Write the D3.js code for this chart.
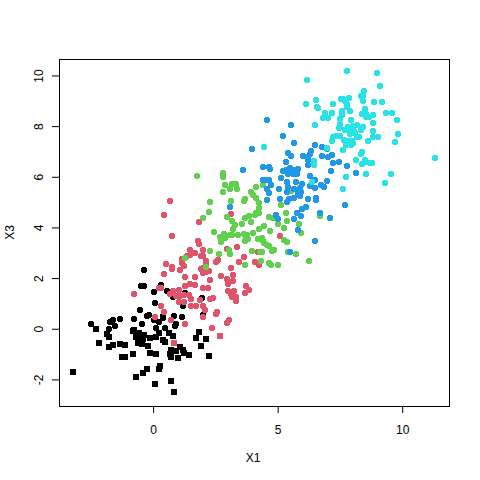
<!DOCTYPE html>
<html><head><meta charset="utf-8">
<style>html,body{margin:0;padding:0;background:#fff}svg{display:block}text{font-family:"Liberation Sans",Arial,sans-serif;font-size:12px;fill:#000}</style>
<script src="https://cdn.jsdelivr.net/npm/d3@7"></script></head><body>
<svg id="c" width="480" height="480"></svg>
<script>
const xTicks=[0,5,10];
const yTicks=[-2,0,2,4,6,8,10];
const xLabel="X1", yLabel="X3";
const groupColors=["#000000","#DF536B","#61D04F","#2297E6","#28E2E5"];
const black=[[-.36,2.33],[-.47,1.7],[-.36,1.7],[.32,1.74],[.04,1.46],[.56,1.5],[1.29,1.42],[.8,1.26],[1.97,1.22],[1.24,1.07],[1.2,.91],[.08,1.03],[-.52,.75],[-2.49,.2],[-1.73,.28],[-1.61,.36],[-1.33,.39],[-.76,.39],[-1.77,0],[-1.53,.12],[-.44,.2],[-.24,.51],[-.16,.55],[.04,.36],[.24,.28],[.4,.43],[.4,.51],[.84,.51],[1.16,.47],[.92,.2],[.88,.12],[.12,.04],[.48,.04],[2.01,.55],
[-2.29,-.02],[-1.87,-.2],[-1.77,-.32],[-2.17,-.55],[-1.77,-.71],[-1.61,-.63],[-1.33,-.59],[-1.12,-.63],[-1.24,-1.11],[-1.12,-1.11],[-.8,-.99],[-3.23,-1.72],[-.8,-.08],[-.76,-.04],[-.64,-.2],[-.56,-.16],[-.7,-.32],[-.36,-.24],[-.53,-.36],[-.44,-.39],[-.6,-.55],[-.44,-.59],[-.2,-.67],[-.12,-.36],[.12,-.32],[.24,-.16],[.4,-.43],[.48,-.51],[.64,-.16],[.8,-.28],[-.13,-.95],[.12,-.99],[1.85,-.12],[1.71,-.38],[2.12,-.39],[1.91,-.68],[2.25,-1.08],[.72,-.84],[1.07,-.71],[.92,-.88],[1.2,-.84],[1.24,-.96],[1.45,-1.04],[.67,-.99],[.71,-1.12],[1,-1.16],[-.25,-1.59],[-.4,-1.76],[-.7,-1.89],[.27,-1.47],[.23,-1.58],[.08,-2.2],[.72,-2.08],[.84,-2.51],[-.8,-.09],[-.67,-.29],[-.53,-.29],[-.53,-.49],[-.4,-.42]];
const red=[[.68,5.05],[.44,4.5],[1.85,4.22],[.76,3.67],[1.81,3.47],[1.85,3.36],[2.01,3.12],[1.49,3.12],[1.69,3],[1.49,2.92],[1.37,2.88],[1.16,2.76],[1.16,2.61],[1.24,2.49],[.52,2.57],[.76,2.45],[.76,2.37],[1.08,2.33],[.44,2.17],[1.93,2.88],[2.01,2.88],[2.13,2.68],[2.13,2.57],[2.61,2.72],[2.53,2.64],[2.97,3.16],[3.37,3.24],[3.65,2.84],[3.45,2.64],[4.1,2.64],[4.27,2.53],[3.13,2.41],[2.01,2.41],[1.93,2.37],[2.01,2.21],[2.13,2.25],[2.25,2.29],[3.21,2.13],[2.73,2.09],[2.97,1.97],[3.21,1.89],[2.29,1.93],[1.29,2.05],[1.69,2.05],[1.29,1.7],[1.49,1.78],[1.69,1.74],[2.01,1.62],[2.21,1.62],[3.01,1.78],[3.73,1.7],[3.86,1.54],[3.69,1.42],[3.01,1.5],[3.25,1.5],[3.13,1.38],[3.17,1.26],[3.33,1.26],[3.33,1.11],[2.41,1.22],[2.29,1.18],[1.89,1.14],[1.04,1.54],[.8,1.5],[.24,1.62],[.32,1.62],[.68,1.38],[.92,1.3],[1.08,1.3],[1.24,1.34],[1.45,1.34],[1.53,1.18],[1.04,1.07],[1.24,1.07],[.32,.91],[1.53,.91],[1.73,.91],[2.01,.91],[2.09,.75],[.44,.67],[.08,.47],[.72,.36],[1.29,.2],[2.01,.47],[2.57,.67],[2.53,.59],[3.05,.36],[2.97,.24],[2.37,.04],[-.76,1.38],[.84,-.58],[2.7,-.28],[3.13,4.54],[5.1,3.67],[4.22,3.04]];
const green=[[1.77,6.04],[2.81,6.16],[2.81,6],[2.89,5.68],[3.17,5.72],[3.33,5.72],[3.09,5.53],[3.37,5.53],[2.81,5.41],[4.42,5.68],[4.14,5.61],[3.94,5.41],[4.02,5.29],[4.14,5.17],[3.69,5.13],[3.65,5.05],[3.13,5.05],[2.29,5.01],[2.25,4.62],[2.01,4.38],[4.26,4.97],[4.26,4.78],[4.26,4.58],[4.14,4.58],[4.1,4.5],[3.86,4.46],[3.69,4.38],[2.97,4.42],[3.17,4.26],[3.29,4.11],[3.57,4.14],[3.94,4.22],[4.66,4.42],[4.82,4.38],[5.34,4.58],[5.14,4.89],[5.38,4.26],[5.02,4.14],[4.46,4.07],[4.26,3.95],[4.7,3.87],[5.26,3.99],[5.86,4.14],[5.94,3.79],[3.21,3.95],[2.45,3.83],[2.85,3.75],[2.69,3.63],[2.89,3.59],[2.73,3.43],[3.09,3.71],[3.17,3.71],[3.41,3.71],[3.65,3.75],[4.02,3.79],[3.78,3.71],[3.74,3.59],[3.82,3.55],[3.69,3.47],[4.22,3.55],[4.38,3.59],[4.42,3.47],[4.46,3.39],[4.58,3.32],[4.66,3.28],[5.26,3.51],[5.38,3.43],[3.05,3.12],[3.09,2.96],[2.29,3.08],[2.65,2.96],[3.98,3.08],[4.3,3.04],[4.38,3.04],[4.78,3.08],[4.86,3.12],[5.42,3.04],[5.74,2.96],[6.27,2.68],[4.34,2.68],[4.66,2.61],[4.74,2.53],[5.02,2.53],[3.69,2.53],[2.13,2.45],[5.54,5.45],[6.71,4.46],[1.29,2.8]];
const blue=[[5.22,7.62],[5.66,7.34],[6.51,7.26],[6.79,7.18],[6.99,7.11],[3.98,7.11],[5.42,6.95],[5.54,6.83],[6.02,6.83],[6.35,7.03],[6.31,6.91],[6.22,6.79],[6.79,6.83],[7.03,6.79],[7.19,6.87],[6.22,6.67],[6.22,6.47],[5.34,6.59],[7.23,6.55],[7.47,6.59],[4.42,6.39],[4.66,6.39],[4.7,6.32],[3.61,6.28],[7.15,6.24],[5.22,6.24],[5.34,6.28],[5.5,6.36],[5.62,6.28],[5.82,6.32],[5.42,6.12],[5.62,6.12],[5.78,6.12],[5.14,5.96],[6.31,6.04],[6.51,5.88],[4.42,5.88],[4.54,5.88],[4.66,5.88],[5.38,5.8],[5.74,5.8],[6.99,5.84],[6.75,5.68],[6.87,5.61],[6.31,5.64],[6.51,5.57],[5.98,5.72],[4.74,5.68],[4.58,5.53],[4.66,5.37],[5.06,5.53],[5.42,5.61],[5.38,5.41],[5.66,5.53],[5.9,5.57],[5.82,5.37],[5.94,5.41],[5.66,5.17],[5.9,5.25],[5.1,5.13],[4.58,5.09],[6.22,5.13],[6.55,5.17],[6.55,5.09],[5.46,5.13],[5.38,5.01],[3.09,4.82],[6.14,4.82],[5.98,4.74],[5.78,4.58],[5.94,4.46],[6.71,4.58],[7.11,4.38],[4.94,4.5],[5.02,4.34],[5.66,4.34],[5.82,3.91],[6.51,3.47],[5.5,3.04],[7.79,6.43],[8.15,6.16],[7.71,4.89],[5.54,8.05],[4.56,8.25]];
const cyan=[[7.79,10.18],[9,10.11],[6.18,9.83],[9.12,9.59],[8.47,9.39],[8.35,9.2],[8.43,9.2],[8.43,9],[6.14,8.88],[6.54,9.04],[7.23,8.88],[6.59,8.76],[6.63,8.72],[7.55,9.08],[7.63,9.08],[7.87,9.12],[7.71,9],[7.79,8.88],[7.79,8.76],[8.88,8.96],[9.2,8.96],[8.51,8.68],[7.59,8.61],[7.91,8.61],[6.91,8.53],[7.19,8.53],[7.59,8.45],[6.83,8.33],[6.91,8.37],[7.03,8.33],[7.51,8.29],[8.39,8.49],[8.55,8.49],[8.55,8.37],[8.67,8.37],[8.84,8.45],[9.36,8.53],[9.6,8.53],[9.8,8.25],[7.95,8.25],[8.84,8.13],[6.51,8.05],[7.51,8.09],[7.51,8.01],[7.47,7.93],[7.83,7.97],[8.03,8.01],[8.19,8.05],[7.71,7.86],[7.87,7.89],[8.07,7.82],[8.43,7.97],[8.35,7.86],[7.91,7.7],[8.03,7.74],[8.11,7.74],[8.19,7.58],[8.27,7.58],[8.84,7.82],[9.84,7.7],[8.84,7.58],[9.04,7.58],[8.64,7.42],[9.72,7.38],[7.23,7.58],[7.35,7.62],[7.51,7.62],[7.19,7.42],[7.67,7.46],[7.83,7.42],[7.99,7.42],[7.75,7.26],[7.95,7.26],[8.03,7.34],[6.99,7.14],[7.63,7.07],[8.39,6.99],[8.35,6.91],[8.15,6.67],[8.51,6.67],[8.39,6.51],[8.51,6.59],[8.71,6.55],[8.79,6.55],[6.47,6.63],[6.47,6.47],[8.55,6.12],[9.56,6.12],[7.75,6],[9.32,5.76],[7.63,5.53],[11.32,6.75],[6.39,5.8],[4.46,7.18]];
const groups=[black,red,green,blue,cyan];

const svg=d3.select("#c");
const x=d3.scaleLinear().domain([-3.78,11.88]).range([59,449]);
const y=d3.scaleLinear().domain([-3.05,10.65]).range([406,59]);

groups.forEach((pts,i)=>{
  const g=svg.append("g").attr("fill",groupColors[i]).attr("shape-rendering","crispEdges");
  g.selectAll("circle").data(pts.filter(d=>d[1]>=0)).join("circle")
    .attr("cx",d=>Math.round(x(d[0]))).attr("cy",d=>Math.round(y(d[1]))).attr("r",2.9);
  g.selectAll("rect").data(pts.filter(d=>d[1]<0)).join("rect")
    .attr("x",d=>Math.round(x(d[0]))-3).attr("y",d=>Math.round(y(d[1]))-3).attr("width",6).attr("height",6);
});

svg.append("rect").attr("x",x.range()[0]+.5).attr("y",y.range()[1]+.5)
  .attr("width",x.range()[1]-x.range()[0]).attr("height",y.range()[0]-y.range()[1])
  .attr("fill","none").attr("stroke","#000");

const ax=svg.append("g").attr("transform",`translate(0,${y.range()[0]})`)
  .call(d3.axisBottom(x).tickValues(xTicks).tickFormat(d3.format("d")).tickSize(7).tickPadding(12));
const ay=svg.append("g").attr("transform",`translate(${x.range()[0]},0)`)
  .call(d3.axisLeft(y).tickValues(yTicks).tickFormat(d=>String(d)).tickSize(7).tickPadding(12));
[ax,ay].forEach(a=>{a.select(".domain").remove();a.selectAll("line").attr("stroke","#000");a.attr("font-size",null).attr("font-family",null);});
ax.append("line").attr("x1",x(xTicks[0])+.5).attr("x2",x(xTicks[xTicks.length-1])+.5).attr("y1",.5).attr("y2",.5).attr("stroke","#000");
ay.append("line").attr("y1",y(yTicks[0])+.5).attr("y2",y(yTicks[yTicks.length-1])+.5).attr("x1",.5).attr("x2",.5).attr("stroke","#000");
ax.selectAll("text").attr("fill","#000");
ay.selectAll("text").attr("fill","#000").attr("x",null).attr("y",0).attr("dx",0).attr("dy",0)
  .attr("transform","translate(-16,0) rotate(-90)").attr("text-anchor","middle");
svg.append("text").attr("x",(x.range()[0]+x.range()[1])/2-1).attr("y",462).attr("text-anchor","middle").text(xLabel);
svg.append("text").attr("transform",`translate(14,${(y.range()[0]+y.range()[1])/2}) rotate(-90)`).attr("text-anchor","middle").text(yLabel);
</script></body></html>
